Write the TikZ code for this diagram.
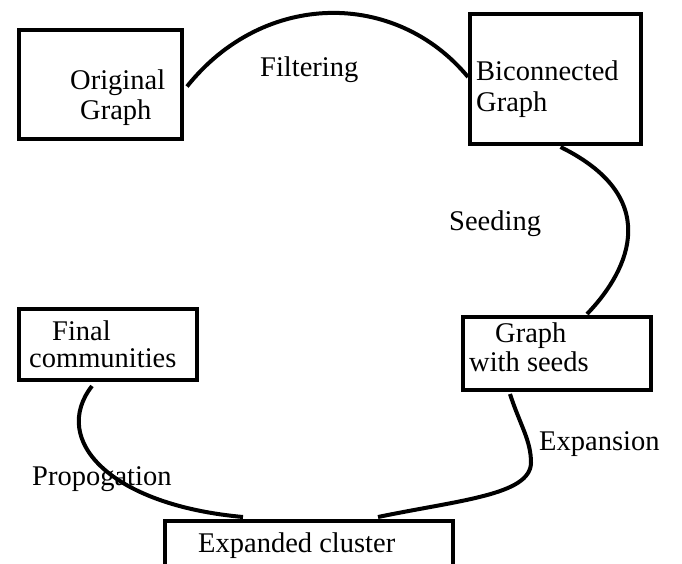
\documentclass[tikz,border=0pt]{standalone}
\usepackage{fontspec}
\setmainfont{Liberation Serif}
\usetikzlibrary{calc}
\tikzset{
  box/.style={draw=black, line width=4pt, rectangle, inner sep=0pt, fill=none},
  lbl/.style={inner sep=0pt, anchor=base west, font=\fontsize{28.5pt}{30pt}\selectfont, text=black},
  link/.style={draw=black, line width=4pt}
}
\begin{document}
\begin{tikzpicture}[x=1pt,y=-1pt]
\useasboundingbox (0,0) rectangle (682,564);
\clip (0,0) rectangle (682,564);
\fill[white] (0,0) rectangle (682,564);
% boxes
\node[box, minimum width=163pt, minimum height=109pt] (orig) at (100.5,84.5) {};
\node[box, minimum width=171pt, minimum height=130pt] (bic) at (555.5,79) {};
\node[box, minimum width=188pt, minimum height=73pt] (seeds) at (557,353.5) {};
\node[box, minimum width=178pt, minimum height=71pt] (final) at (108,344.5) {};
\node[box, minimum width=288pt, minimum height=59pt] (exp) at (309,550.5) {};
% box texts
\node[lbl] (origA) at (70,90) {Original};
\node[lbl] (origB) at (80,120) {Graph};
\node[lbl] (bicA) at (476,81) {Biconnected};
\node[lbl] (bicB) at (476,112) {Graph};
\node[lbl] (seedsA) at (495,342) {Graph};
\node[lbl] (seedsB) at (469,371) {with seeds};
\node[lbl] (finalA) at (52,340) {Final};
\node[lbl] (finalB) at (29,367) {communities};
\node[lbl] (expA) at (198,552) {Expanded cluster};
% connector labels
\node[lbl] (lfilter) at (260,77) {Filtering};
\node[lbl] (lseed) at (449,230) {Seeding};
\node[lbl] (lexpand) at (539,450) {Expansion};
\node[lbl] (lprop) at (32,485) {Propogation};
% connector end points
\coordinate (fs) at ($(orig.east)+(3,2)$);
\coordinate (fe) at ($(bic.west)+(0,-2)$);
\coordinate (ss) at ($(bic.south)+(5,1)$);
\coordinate (se) at ($(seeds.north)+(30,-1)$);
\coordinate (es) at ($(seeds.south)+(-47,2)$);
\coordinate (ee) at ($(exp.north west)+(215,-2)$);
\coordinate (ps) at ($(final.south)+(-16,4)$);
\coordinate (pe) at ($(exp.north west)+(80,-2)$);
% connectors
\draw[link] (fs) .. controls (264,-10) and (396,-10) .. (fe);
\draw[link] (ss) .. controls (670,201) and (622,278) .. (se);
\draw[link] (es) .. controls (520,425) and (531,440) .. (531,463)
                 .. controls (530,495) and (460,500) .. (ee);
\draw[link] (ps) .. controls (50,440) and (110,505) .. (pe);
\end{tikzpicture}
\end{document}
